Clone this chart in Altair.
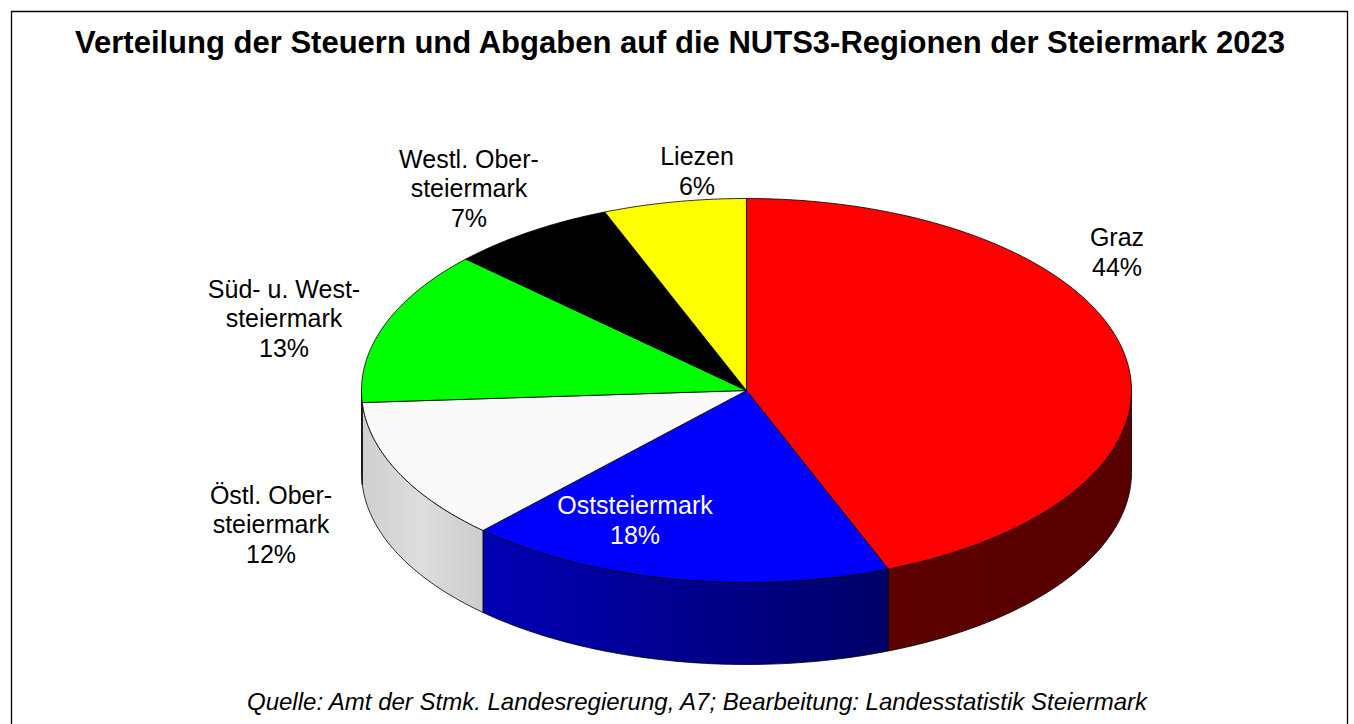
import math
import altair as alt
import pandas as pd

# ---------------- data ----------------
regions = ["Graz", "Oststeiermark", "Östl. Obersteiermark",
           "Süd- u. Weststeiermark", "Westl. Obersteiermark", "Liezen"]
shares = [44, 18, 12, 13, 7, 6]
label_names = ["Graz", "Oststeiermark", "Östl. Ober-\nsteiermark",
               "Süd- u. West-\nsteiermark", "Westl. Ober-\nsteiermark", "Liezen"]

TITLE = "Verteilung der Steuern und Abgaben auf die NUTS3-Regionen der Steiermark 2023"
SOURCE = "Quelle: Amt der Stmk. Landesregierung, A7; Bearbeitung: Landesstatistik Steiermark"

# ---------------- styles / layout ----------------
top_colors = ["#ff0000", "#0000ff", "#fafafa", "#00ff00", "#000000", "#ffff00"]
side_stops = [["#5e0000", "#580000"],
              ["#0000b4", "#000068"],
              ["#d0d0d0", "#dddddd", "#cccccc"],
              ["#009000", "#008000"],
              ["#202020", "#101010"],
              ["#a0a000", "#909000"]]
label_colors = ["black", "white", "black", "black", "black", "black"]
# label anchor positions (centre of text block) in the chart's pixel space
label_pos = [(1117, 253), (635, 521), (271, 525), (284, 319), (469, 189), (697, 172)]
LINE_H = 29.5

W, H = 1354, 724
CX, CY, RX, RY, DEPTH = 746.5, 390.5, 385.0, 192.0, 82.0


def ell(theta_deg, dy=0.0):
    t = math.radians(theta_deg)
    return CX + RX * math.sin(t), CY - RY * math.cos(t) + dy


# ---------------- geometry built from the shares ----------------
total = float(sum(shares))
starts, ends = [], []
acc = 0.0
for s in shares:
    starts.append(acc / total * 360.0)
    acc += s
    ends.append(acc / total * 360.0)

top_rows, side_rows = [], []
for name, a0, a1 in zip(regions, starts, ends):
    n = max(2, int(math.ceil(a1 - a0))) + 1
    pts = [(CX, CY)] + [ell(a0 + (a1 - a0) * i / (n - 1)) for i in range(n)] + [(CX, CY)]
    for i, (x, y) in enumerate(pts):
        top_rows.append({"slice": name, "idx": i, "x": x, "y": y})
    b0, b1 = max(a0, 90.0), min(a1, 270.0)
    if b1 > b0:
        m = max(2, int(math.ceil(b1 - b0))) + 1
        upper = [ell(b0 + (b1 - b0) * i / (m - 1)) for i in range(m)]
        lower = [ell(b1 - (b1 - b0) * i / (m - 1), DEPTH) for i in range(m)]
        for i, (x, y) in enumerate(upper + lower + [upper[0]]):
            side_rows.append({"slice": name, "idx": i, "x": x, "y": y})

top_df = pd.DataFrame(top_rows)
side_df = pd.DataFrame(side_rows)

texts = [f"{n}\n{s}%" for n, s in zip(label_names, shares)]
label_df = pd.DataFrame({
    "slice": regions,
    "text": texts,
    "lx": [p[0] for p in label_pos],
    # Vega places the first line at the anchor: shift so the block is centred
    "ly": [p[1] - (t.count("\n")) * LINE_H / 2 for p, t in zip(label_pos, texts)],
    "tc": label_colors,
})

xenc = alt.X("x:Q", scale=alt.Scale(domain=[0, W], nice=False, zero=False), axis=None)
yenc = alt.Y("y:Q", scale=alt.Scale(domain=[0, H], nice=False, zero=False, reverse=True), axis=None)

layers = []
for name, stops in zip(regions, side_stops):
    sub = side_df[side_df["slice"] == name]
    if sub.empty:
        continue
    grad = alt.Gradient(
        gradient="linear",
        stops=[alt.GradientStop(color=c, offset=i / (len(stops) - 1)) for i, c in enumerate(stops)],
        x1=0, x2=1, y1=0, y2=0,
    )
    layers.append(
        alt.Chart(sub).mark_line(filled=True, fill=grad, stroke="#000000", strokeWidth=0.8,
                                 strokeJoin="round")
        .encode(x=xenc, y=yenc, order="idx:Q")
    )

tops = alt.Chart(top_df).mark_line(filled=True, stroke="#000000", strokeWidth=0.8,
                                   strokeJoin="round").encode(
    x=xenc, y=yenc, order="idx:Q", detail="slice:N",
    color=alt.Color("slice:N", scale=alt.Scale(domain=regions, range=top_colors), legend=None),
)
layers.append(tops)

labels = alt.Chart(label_df).mark_text(
    font="Liberation Sans", fontSize=25, lineBreak="\n", lineHeight=LINE_H,
    align="center", baseline="middle",
).encode(
    x=alt.X("lx:Q", scale=alt.Scale(domain=[0, W], nice=False, zero=False), axis=None),
    y=alt.Y("ly:Q", scale=alt.Scale(domain=[0, H], nice=False, zero=False, reverse=True), axis=None),
    text="text:N",
    color=alt.Color("tc:N", scale=None),
)
layers.append(labels)

one = pd.DataFrame({"t": [TITLE], "s": [SOURCE]})
title = alt.Chart(one).mark_text(
    font="Liberation Sans", fontSize=31, fontWeight="bold", align="center", baseline="alphabetic",
    color="black",
).encode(x=alt.value(680), y=alt.value(53), text="t:N")
footer = alt.Chart(one).mark_text(
    font="Liberation Sans", fontSize=24, fontStyle="italic", align="center", baseline="alphabetic",
    color="black",
).encode(x=alt.value(697), y=alt.value(710), text="s:N")
border = alt.Chart(one).mark_rect(fillOpacity=0, stroke="#000000", strokeWidth=1.3).encode(
    x=alt.value(11.5), x2=alt.value(1347.5), y=alt.value(11.5), y2=alt.value(760)
)
layers += [title, footer, border]

chart = alt.layer(*layers).properties(
    width=W, height=H, padding=0, autosize=alt.AutoSizeParams(type="none"),
    background="white",
).configure_view(stroke=None)

chart.save("out.html", embed_options={"renderer": "svg", "actions": False})
